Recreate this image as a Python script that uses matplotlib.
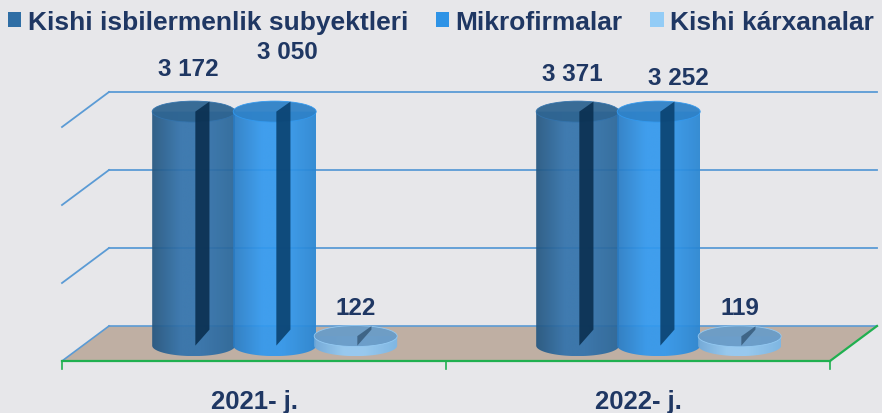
import numpy as np
import matplotlib
matplotlib.use("Agg")
import matplotlib.pyplot as plt
from matplotlib.patches import Polygon, Ellipse, PathPatch
from matplotlib.path import Path
from matplotlib.colors import LinearSegmentedColormap

categories = ["2021- j.", "2022- j."]
series_names = ["Kishi isbilermenlik subyektleri", "Mikrofirmalar", "Kishi kárxanalar"]
subjects = [3172, 3371]
micro = [3050, 3252]
small = [122, 119]
value_labels = [["3 172", "3 371"], ["3 050", "3 252"], ["122", "119"]]
grid_values = [1000, 2000, 3000]
axis_max = 3000

plt.rcParams['font.family'] = ['Liberation Sans', 'DejaVu Sans']

BG = "#E7E7EA"
TXT = "#1F3763"
GRID = "#5B9BD5"
GREEN = "#20B050"

# cylinder colours: (left edge, highlight, right edge, top, stripe)
cyl_colors = [
    ("#245680", "#3373AC", "#2A6699", "#2F6592", "#0A2F50"),
    ("#2A7CC4", "#3399EE", "#2A86D2", "#2F82C8", "#0A4270"),
    ("#6FAADC", "#95CBF4", "#7AB7E8", "#6A9CC8", "#3A5F80"),
]
legend_colors = ["#2F6EA5", "#2E93E6", "#93CCF6"]

# pixel layout -> data units
W, H = 882, 414
px_cat = 384.0          # px per category unit
px_val = 0.078          # px per value unit
front_left_px = 62
floor_front_px = 362
fig = plt.figure(figsize=(W / 100, H / 100), dpi=100, facecolor=BG)
ax = fig.add_axes([0, 0, 1, 1])
ax.set_axis_off()
ax.set_xlim(-0.5 - front_left_px / px_cat, -0.5 + (W - front_left_px) / px_cat)
ax.set_ylim(-(H - floor_front_px) / px_val, floor_front_px / px_val)

DX = 47 / px_cat
DY = 35 / px_val


def proj(x, v, d):
    return x + d * DX, v + d * DY


# floor
corners = [proj(-0.5, 0, 0), proj(1.5, 0, 0), proj(1.5, 0, 1), proj(-0.5, 0, 1)]
ax.add_patch(Polygon(corners, closed=True, facecolor="#BFAFA3", edgecolor="none", zorder=1))
ax.plot(*zip(corners[0], corners[1]), color=GREEN, lw=1.6, zorder=6)
ax.plot(*zip(corners[1], corners[2]), color=GREEN, lw=1.6, zorder=6)
ax.plot(*zip(corners[2], corners[3]), color=GRID, lw=1.2, zorder=2)
ax.plot(*zip(corners[3], corners[0]), color=GRID, lw=1.2, zorder=2)
for t in [-0.5, 0.5, 1.5]:
    ax.plot([t, t], [0, -8 / px_val], color=GREEN, lw=1.2, zorder=6)

# gridlines on back wall + left diagonals
for g in grid_values:
    a = proj(-0.5, g, 1)
    b = proj(1.5, g, 1)
    c = proj(-0.5, g, 0)
    ax.plot([a[0], b[0]], [a[1], b[1]], color=GRID, lw=1.3, zorder=2)
    ax.plot([c[0], a[0]], [c[1], a[1]], color=GRID, lw=1.3, zorder=2)

# cylinders
bar_w = 83 / px_cat
step = 81 / px_cat
ell_h = 21 / px_val
depth = 0.44
series = [subjects, micro, small]
label_offsets = [[(-5, 43), (-5, 38)], [(13, 60), (20, 34)], [(0, 29), (0, 29)]]
grad = np.linspace(0, 1, 256)[None, :]

for i in range(len(categories)):
    for s, vals in enumerate(series):
        h = min(vals[i], axis_max)
        cx, y0 = proj(i + (s - 1) * step, 0, depth)
        top = y0 + h
        left, right = cx - bar_w / 2, cx + bar_w / 2
        e_left, e_hi, e_right, e_top, e_stripe = cyl_colors[s]
        theta = np.linspace(np.pi, 2 * np.pi, 60)
        verts = list(zip(cx + bar_w / 2 * np.cos(theta), y0 + ell_h / 2 * np.sin(theta)))
        verts += [(right, top), (left, top), verts[0]]
        body = PathPatch(Path(verts), facecolor="none", edgecolor="none", transform=ax.transData)
        ax.add_patch(body)
        cmap = LinearSegmentedColormap.from_list("c", [(0, e_left), (0.35, e_hi), (0.6, e_hi), (1, e_right)])
        im = ax.imshow(grad, cmap=cmap, extent=[left, right, y0 - ell_h / 2, top],
                       aspect="auto", zorder=3 + s, alpha=0.93, interpolation="bilinear")
        im.set_clip_path(body)
        ax.add_patch(Ellipse((cx, top), bar_w, ell_h, facecolor=e_top, edgecolor=e_hi,
                             lw=0.6, alpha=0.95, zorder=3 + s))
        sx0 = cx + 0.02 * bar_w
        sx1 = cx + 0.19 * bar_w
        up_top = 10 / px_val
        up_bot = min(16 / px_val, h + up_top)
        stripe = [(sx0, y0), (sx0, top), (sx1, top + up_top), (sx1, y0 + up_bot)]
        ax.add_patch(Polygon(stripe, closed=True, facecolor=e_stripe, edgecolor="none",
                             alpha=0.9, zorder=3 + s))
        ox, oy = label_offsets[s][i]
        ax.annotate(value_labels[s][i], (cx, top), xytext=(ox * 0.72, oy * 0.72),
                    textcoords="offset points", ha="center", va="center",
                    fontsize=17.5, fontweight="bold", color=TXT, zorder=10)

# category labels
for i, cat in enumerate(categories):
    ax.annotate(cat, (i, 0), xytext=(0, -40 * 0.72), textcoords="offset points",
                ha="center", va="center", fontsize=18.5, fontweight="bold", color=TXT)

# legend
handles = [plt.Rectangle((0, 0), 1, 1, facecolor=c) for c in legend_colors]
leg = fig.legend(handles, series_names, loc="upper center", bbox_to_anchor=(0.5, 1.03),
                 ncol=3, frameon=False, handlelength=0.5, handleheight=0.5,
                 handletextpad=0.25, columnspacing=1.05,
                 prop={"size": 19, "weight": "bold"})
for t in leg.get_texts():
    t.set_color(TXT)

fig.savefig("out.png", dpi=100, facecolor=BG)
